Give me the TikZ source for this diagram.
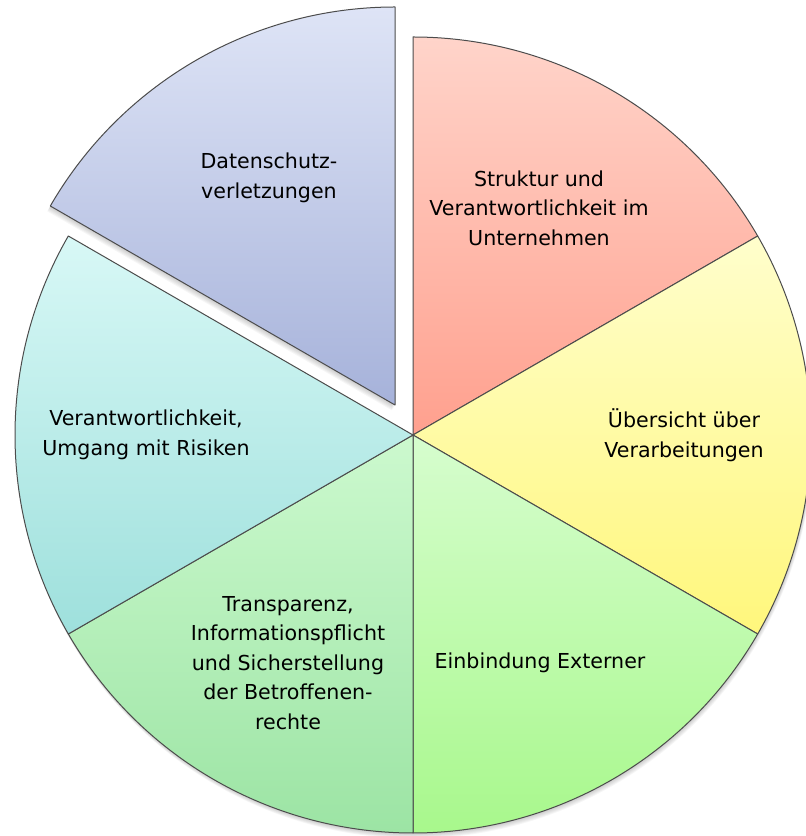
\documentclass[tikz,border=0pt]{standalone}
\usepackage{fontspec}
\setmainfont{DejaVu Sans}

\definecolor{redtop}{HTML}{FFD4CA}
\definecolor{redbot}{HTML}{FFA08E}
\definecolor{yeltop}{HTML}{FFFECC}
\definecolor{yelbot}{HTML}{FFF77C}
\definecolor{grntop}{HTML}{D6FDCE}
\definecolor{grnbot}{HTML}{A8F88C}
\definecolor{lgrtop}{HTML}{CCF9CE}
\definecolor{lgrbot}{HTML}{9CE4A4}
\definecolor{cyntop}{HTML}{D8F8F6}
\definecolor{cynbot}{HTML}{9EE0DC}
\definecolor{blutop}{HTML}{DEE4F6}
\definecolor{blubot}{HTML}{A6B2DA}

\tikzset{
  slice/.style={draw=black!70, line width=1pt, line join=round},
  lbl/.style={align=center, font=\fontsize{20.6}{29.5}\selectfont}
}

\begin{document}
\begin{tikzpicture}[x=1pt,y=1pt]
        \useasboundingbox (0,0) rectangle (806,836);
        % \draw[help lines, gray!50, very thin] (0,0) grid[step=50] (806,836);

        \coordinate (ctr) at (413,401);
        \coordinate (off) at (395,431);

        % soft shadows
        \foreach \d in {1,...,6}
          \fill[black, opacity=0.035] ([shift={(0.3*\d,-0.9*\d)}]ctr) -- ++(150:398) arc (150:450:398) -- cycle;
        \foreach \d in {1,...,6}
          \fill[black, opacity=0.035] ([shift={(-0.5*\d,-0.9*\d)}]off) -- ++(90:398) arc (90:150:398) -- cycle;

        % main pie
        \draw[slice, top color=redtop, bottom color=redbot] (ctr) -- ++(90:398) arc (90:30:398) -- cycle;
        \draw[slice, top color=yeltop, bottom color=yelbot] (ctr) -- ++(30:398) arc (30:-30:398) -- cycle;
        \draw[slice, top color=grntop, bottom color=grnbot] (ctr) -- ++(-30:398) arc (-30:-90:398) -- cycle;
        \draw[slice, top color=lgrtop, bottom color=lgrbot] (ctr) -- ++(-90:398) arc (-90:-150:398) -- cycle;
        \draw[slice, top color=cyntop, bottom color=cynbot] (ctr) -- ++(210:398) arc (210:150:398) -- cycle;

        % exploded piece
        \draw[slice, top color=blutop, bottom color=blubot] (off) -- ++(90:398) arc (90:150:398) -- cycle;

        % labels
        \node[lbl] (datsch) at (269,658) {Datenschutz-\\verletzungen};
        \node[lbl] (strukt) at (539,628) {Struktur und\\Verantwortlichkeit im\\Unternehmen};
        \node[lbl] (uebers) at (684,401) {Übersicht über\\Verarbeitungen};
        \node[lbl] (einbin) at (540,173) {Einbindung Externer};
        \node[lbl] (transp) at (288,173) {Transparenz,\\Informationspflicht\\und Sicherstellung\\der Betroffenen-\\rechte};
        \node[lbl] (verant) at (146,401) {Verantwortlichkeit,\\Umgang mit Risiken};
\end{tikzpicture}
\end{document}
